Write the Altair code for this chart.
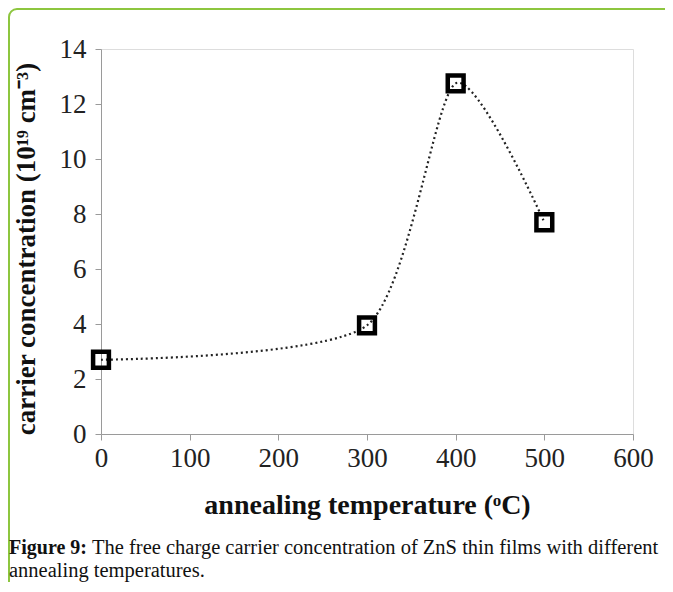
import altair as alt
import pandas as pd

# data
temps = [0, 300, 400, 500]
conc = [2.7, 3.95, 12.75, 7.7]
x_ticks = [0, 100, 200, 300, 400, 500, 600]
y_ticks = [0, 2, 4, 6, 8, 10, 12, 14]
x_title = "annealing temperature (ᵒC)"
y_title = "carrier  concentration (10¹⁹ cm⁻³)"
cap_bold = ["Figure 9:"]
cap_rest = ["The free charge carrier concentration of ZnS thin films with different"]
cap_line2 = ["annealing temperatures."]

FONT = "Liberation Serif"
W, H = 532, 385

df = pd.DataFrame({"t": temps, "c": conc})

xs = alt.Scale(domain=[0, 600], nice=False)
ys = alt.Scale(domain=[0, 14], nice=False)

xax = alt.Axis(values=x_ticks, title=x_title, grid=False, domainColor="#9a9a9a",
               tickColor="#9a9a9a", tickSize=6, labelFont=FONT, labelFontSize=27,
               labelColor="#222", labelPadding=5, labelFlush=False, titleFont=FONT,
               titleFontSize=28, titleFontWeight="bold", titleColor="#111",
               titlePadding=20)
yax = alt.Axis(values=y_ticks, title=y_title, grid=False, domainColor="#9a9a9a",
               tickColor="#9a9a9a", tickSize=6, labelFont=FONT, labelFontSize=27,
               labelColor="#222", labelPadding=9, labelFlush=False, titleFont=FONT,
               titleFontSize=27, titleFontWeight="bold", titleColor="#111",
               titlePadding=19, titleY=H / 2 + 7)

base = alt.Chart(df)

line = base.mark_line(interpolate="cardinal", tension=0.3, color="#222", strokeWidth=2.2,
                      strokeDash=[2, 3]).encode(
    x=alt.X("t:Q", scale=xs, axis=xax),
    y=alt.Y("c:Q", scale=ys, axis=yax),
)

pts = base.mark_point(shape="square", filled=False, color="#000", size=250,
                      strokeWidth=4.5, opacity=1).encode(
    x=alt.X("t:Q", scale=xs),
    y=alt.Y("c:Q", scale=ys),
)

border = alt.Chart(pd.DataFrame({"k": [0]})).mark_rect(
    fill=None, stroke="#8dc63f", strokeWidth=2, cornerRadius=8, clip=False
).encode(
    x=alt.value(-92), x2=alt.value(W + 60),
    y=alt.value(-40), y2=alt.value(H + 200),
)

cap1 = alt.Chart(pd.DataFrame({"s": cap_bold})).mark_text(
    align="left", baseline="alphabetic", font=FONT, fontSize=20, fontWeight="bold",
    color="#111", clip=False
).encode(text="s:N", x=alt.value(-92), y=alt.value(505))

cap2 = alt.Chart(pd.DataFrame({"s": cap_rest})).mark_text(
    align="left", baseline="alphabetic", font=FONT, fontSize=20.5,
    color="#111", clip=False
).encode(text="s:N", x=alt.value(-9), y=alt.value(505))

cap3 = alt.Chart(pd.DataFrame({"s": cap_line2})).mark_text(
    align="left", baseline="alphabetic", font=FONT, fontSize=20.5,
    color="#111", clip=False
).encode(text="s:N", x=alt.value(-92), y=alt.value(528))

chart = alt.layer(border, line, pts, cap1, cap2, cap3).properties(
    width=W, height=H,
    autosize=alt.AutoSizeParams(type="none"),
    padding={"left": 93, "top": 41, "right": 32, "bottom": 148},
).configure_view(stroke="#333", strokeWidth=1.5).configure(background="white")

chart.save("out.html", embed_options={"renderer": "svg", "actions": False})
